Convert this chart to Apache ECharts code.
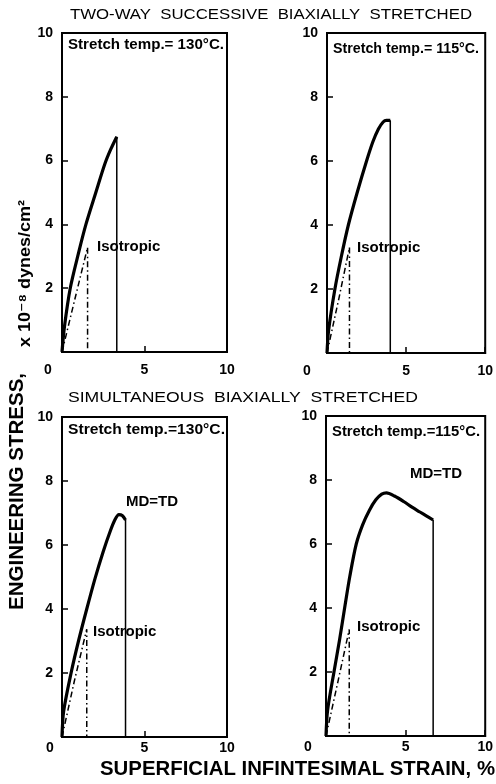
<!DOCTYPE html>
<html lang="en">
<head>
<meta charset="UTF-8">
<title>Engineering stress - superficial strain</title>
<script src="https://cdn.jsdelivr.net/npm/echarts@6/dist/echarts.min.js"></script>
<style>
    html, body {
        margin: 0;
        padding: 0;
        background: #fff;
    }
    #chart {
        width: 496px;
        height: 784px;
    }
</style>
</head>
<body>
<div id="chart"></div>
<script>
    // axis ranges (strain %, stress x10^-8 dynes/cm2)
    var xMax = 10, xStep = 5;
    var yMax = 10, yStep = 2;

    // two-way successive, 130 C
    var twoWay130 = [[0, 0], [0.15, 0.8], [0.5, 2.0], [1.0, 3.1], [1.45, 4.0], [2.05, 5.0], [2.6, 5.9], [2.95, 6.35], [3.32, 6.75]];
    var twoWay130Iso = [[0, 0], [0.8, 1.7], [1.55, 3.28]];
    // two-way successive, 115 C
    var twoWay115 = [[0, 0], [0.1, 0.7], [0.5, 2.0], [0.9, 3.0], [1.35, 4.0], [1.9, 5.0], [2.5, 6.0], [2.9, 6.6], [3.25, 7.0], [3.55, 7.22], [3.75, 7.27], [4.0, 7.27]];
    var twoWay115Iso = [[0, 0], [0.75, 1.7], [1.42, 3.3]];
    // simultaneous, 130 C
    var simul130 = [[0, 0], [0.1, 0.8], [0.55, 2.0], [1.0, 3.0], [1.5, 4.0], [2.0, 4.95], [2.5, 5.8], [2.9, 6.4], [3.2, 6.78], [3.45, 6.95], [3.65, 6.92], [3.85, 6.78]];
    var simul130Iso = [[0, 0], [0.75, 1.75], [1.5, 3.37]];
    // simultaneous, 115 C
    var simul115 = [[0, 0], [0.1, 0.8], [0.5, 2.0], [0.85, 3.0], [1.17, 4.0], [1.5, 5.0], [1.9, 6.0], [2.3, 6.6], [2.72, 7.05], [3.13, 7.38], [3.5, 7.56], [3.8, 7.6], [4.3, 7.5], [4.9, 7.32], [5.4, 7.15], [5.9, 7.0], [6.3, 6.88], [6.73, 6.75]];
    var simul115Iso = [[0, 0], [0.75, 1.7], [1.46, 3.33]];

    var panels = [
        {curve: twoWay130, iso: twoWay130Iso, temp: 'Stretch temp.= 130°C.'},
        {curve: twoWay115, iso: twoWay115Iso, temp: 'Stretch temp.= 115°C.'},
        {curve: simul130, iso: simul130Iso, temp: 'Stretch temp.=130°C.'},
        {curve: simul115, iso: simul115Iso, temp: 'Stretch temp.=115°C.'}
    ];

    var FONT = '"Liberation Sans", Arial, "DejaVu Sans", sans-serif';
    var grids = [
        {left: 62, top: 33, width: 165, height: 319},
        {left: 327, top: 33, width: 162, height: 320},
        {left: 62, top: 417, width: 165, height: 320},
        {left: 326, top: 416, width: 162, height: 320}
    ];
    var zeroShift = [28, 40, 24, 36];
    var xLabelMargin = [11, 11, 4, 4];

    var measure = document.createElement('canvas').getContext('2d');
    function fitText(text, x, y, width, font, rot) {
        measure.font = font;
        var w = measure.measureText(text).width;
        return {
            type: 'text', x: x, y: y, rotation: rot || 0, scaleX: width / w,
            style: {text: text, font: font, fill: '#000', textAlign: 'left', textVerticalAlign: 'middle'}
        };
    }
    function label(text, x, y) {
        return {
            type: 'text', x: x, y: y,
            style: {text: text, font: 'bold 15px ' + FONT, fill: '#000', textAlign: 'left', textVerticalAlign: 'middle'}
        };
    }

    var xAxes = [], yAxes = [], series = [];
    grids.forEach(function (g, i) {
        g.show = true;
        g.borderColor = '#000';
        g.borderWidth = 2;
        xAxes.push({
            type: 'value', gridIndex: i, min: 0, max: xMax, interval: xStep,
            axisLine: {lineStyle: {color: '#000', width: 2}},
            axisTick: {inside: true, length: 6, lineStyle: {color: '#000', width: 1.5}},
            splitLine: {show: false},
            axisLabel: {
                color: '#000', fontWeight: 'bold', fontSize: 14, fontFamily: FONT, margin: xLabelMargin[i],
                formatter: function (v) { return v === 0 ? '{z|0}' : String(v); },
                rich: {z: {color: '#000', fontWeight: 'bold', fontSize: 14, fontFamily: FONT, padding: [0, zeroShift[i], 0, 0]}}
            }
        });
        yAxes.push({
            type: 'value', gridIndex: i, min: 0, max: yMax, interval: yStep,
            axisLine: {lineStyle: {color: '#000', width: 2}},
            axisTick: {inside: true, length: 6, lineStyle: {color: '#000', width: 1.5}},
            splitLine: {show: false},
            axisLabel: {color: '#000', fontWeight: 'bold', fontSize: 14, fontFamily: FONT, margin: 9, showMinLabel: false}
        });

        var p = panels[i];
        var last = p.curve[p.curve.length - 1];
        var isoLast = p.iso[p.iso.length - 1];
        series.push({
            type: 'line', xAxisIndex: i, yAxisIndex: i, data: p.curve, smooth: 0.3,
            symbol: 'none', lineStyle: {color: '#000', width: 3.2}, silent: true
        });
        series.push({
            type: 'line', xAxisIndex: i, yAxisIndex: i, data: [last, [last[0], 0]], symbol: 'none',
            lineStyle: {color: '#000', width: 1.5}, silent: true
        });
        series.push({
            type: 'line', xAxisIndex: i, yAxisIndex: i, data: p.iso.concat([[isoLast[0], 0]]), symbol: 'none',
            lineStyle: {color: '#000', width: 1.5, type: [6, 3, 1.5, 3]}, silent: true
        });
    });

    var tempFont = 'bold 15px ' + FONT;
    var graphics = [
        fitText('TWO-WAY  SUCCESSIVE  BIAXIALLY  STRETCHED', 70, 15, 402, '14px ' + FONT),
        fitText('SIMULTANEOUS  BIAXIALLY  STRETCHED', 68, 398, 350, '14px ' + FONT),
        fitText('SUPERFICIAL INFINTESIMAL STRAIN, %', 100, 769, 395, 'bold 20px ' + FONT),
        fitText('ENGINEERING STRESS,', 17, 610, 237, 'bold 20px ' + FONT, Math.PI / 2),
        fitText('x 10⁻⁸ dynes/cm²', 25, 347, 147, 'bold 17px ' + FONT, Math.PI / 2),
        fitText(panels[0].temp, 68, 45, 156, tempFont),
        fitText(panels[1].temp, 333, 49, 146, tempFont),
        fitText(panels[2].temp, 68, 430, 157, tempFont),
        fitText(panels[3].temp, 332, 432, 148, tempFont),
        label('Isotropic', 97, 247),
        label('Isotropic', 357, 248),
        label('Isotropic', 93, 632),
        label('Isotropic', 357, 627),
        label('MD=TD', 126, 502),
        label('MD=TD', 410, 474)
    ];

    var chart = echarts.init(document.getElementById('chart'));
    chart.setOption({
        animation: false,
        backgroundColor: '#fff',
        grid: grids,
        xAxis: xAxes,
        yAxis: yAxes,
        series: series,
        graphic: {elements: graphics}
    });
</script>
</body>
</html>
